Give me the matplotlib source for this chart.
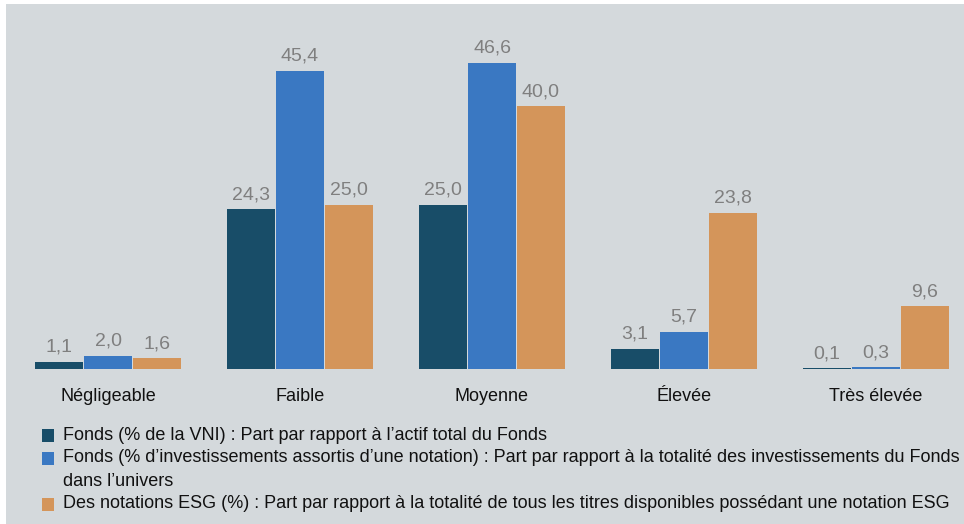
import matplotlib
matplotlib.use("Agg")
import matplotlib.pyplot as plt
import numpy as np
from matplotlib.patches import Rectangle

categories = ["Négligeable", "Faible", "Moyenne", "Élevée", "Très élevée"]
fonds_vni = [1.1, 24.3, 25.0, 3.1, 0.1]
fonds_notation = [2.0, 45.4, 46.6, 5.7, 0.3]
notations_esg = [1.6, 25.0, 40.0, 23.8, 9.6]
series_labels = [
    "Fonds (% de la VNI) : Part par rapport à l’actif total du Fonds",
    "Fonds (% d’investissements assortis d’une notation) : Part par rapport à la totalité des investissements du Fonds\ndans l’univers",
    "Des notations ESG (%) : Part par rapport à la totalité de tous les titres disponibles possédant une notation ESG",
]
colors = ["#184d68", "#3a78c2", "#d4955a"]
bg = "#d4d9dc"

W, H = 964, 524
fig = plt.figure(figsize=(W / 100, H / 100), dpi=100)
fig.patch.set_facecolor("white")
fig.add_artist(Rectangle((6 / W, 0), 1, 1 - 4 / H, transform=fig.transFigure,
                         facecolor=bg, edgecolor="none", zorder=0))

fam = ["Liberation Sans", "DejaVu Sans"]

# axes: x pixel 12 -> -0.5, 192 px per unit; baseline y=369 px, 6.57 px per unit
left_px, right_px = 12, 964
base_px = 369
ppu = 6.57
ymax = 50
top_px = base_px - ymax * ppu
ax = fig.add_axes([left_px / W, (H - base_px) / H, (right_px - left_px) / W, (base_px - top_px) / H])
ax.set_facecolor("none")
ax.set_xlim(-0.5, -0.5 + (right_px - left_px) / 192)
ax.set_ylim(0, ymax)
for s in ax.spines.values():
    s.set_visible(False)
ax.set_yticks([])
ax.tick_params(axis="x", length=0, pad=14)

x = np.arange(len(categories))
bw = 0.25
gap = 0.005
for i, (vals, c) in enumerate(zip([fonds_vni, fonds_notation, notations_esg], colors)):
    pos = x + (i - 1) * (bw + gap)
    ax.bar(pos, vals, width=bw, color=c, zorder=2)
    for p, v in zip(pos, vals):
        ax.text(p, v + 0.9, f"{v:.1f}".replace(".", ","), ha="center", va="bottom",
                fontsize=14, color="#7f7f7f", family=fam)

ax.set_xticks(x)
ax.set_xticklabels(categories, fontsize=13, family=fam, color="#111111")

# legend
ys = [435, 458, 504]
for y, c, lab in zip(ys, colors, series_labels):
    fig.add_artist(Rectangle((42 / W, (H - y - 6.5) / H), 12 / W, 13 / H,
                             transform=fig.transFigure, facecolor=c, edgecolor="none"))
    for k, line in enumerate(lab.split("\n")):
        fig.text(63 / W, (H - y - 23 * k) / H, line, fontsize=13, family=fam, color="#111111",
                 va="center", transform=fig.transFigure)

fig.savefig("out.png", dpi=100, facecolor=fig.get_facecolor())
